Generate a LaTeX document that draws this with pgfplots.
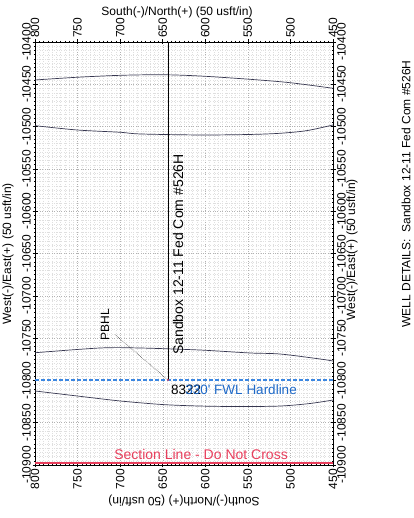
\documentclass[border=0pt]{standalone}
\usepackage{fontspec}
\setmainfont{Liberation Sans}
\usepackage{pgfplots}
\pgfplotsset{compat=1.18}

\definecolor{curvec}{RGB}{55,55,80}
\definecolor{redline}{RGB}{232,62,92}
\definecolor{bluetext}{RGB}{30,105,200}
\definecolor{bluedash}{RGB}{60,135,225}

\begin{document}
\begin{tikzpicture}
\pgfplotsset{
  common/.style={
    scale only axis, width=298pt, height=423pt,
    xmin=450, xmax=800, ymin=-10900, ymax=-10400, x dir=reverse,
    xtick={450,500,...,800}, ytick={-10900,-10850,...,-10400},
    minor x tick num=9, minor y tick num=9,
    scaled x ticks=false, scaled y ticks=false,
    /pgf/number format/assume math mode=true,
    /pgf/number format/set thousands separator={},
    ticklabel style={font=\fontsize{12}{12}\selectfont, rotate=90, inner sep=1.5pt},
    major tick length=5pt, minor tick length=2.5pt,
    tick align=center,
    clip=false,
  }
}
\begin{axis}[common,
  set layers=standard,
  axis line style={black, line width=0.8pt},
  tick style={black, line width=0.5pt},
  grid=both,
  major grid style={gray!60, dotted, line width=0.4pt},
  minor grid style={gray!25, dotted, line width=0.3pt},
  xticklabel style={anchor=east},
  yticklabel style={anchor=south},
]
% arcs
\addplot[curvec, line width=0.7pt, smooth] coordinates {
 (800,-10444.9) (750.7,-10441.7) (700.2,-10439.4) (650.8,-10438.7) (606.2,-10440.2) (547.5,-10444.1) (500.5,-10448.1) (450,-10454.7)};
\addplot[curvec, line width=0.7pt, smooth] coordinates {
 (800,-10498.9) (750.7,-10504.0) (700.2,-10506.7) (676.7,-10508.7) (606.2,-10509.9) (547.5,-10509.3) (512.2,-10507.9) (481.0,-10504.8) (450,-10498.1)};
\addplot[curvec, line width=0.7pt, smooth] coordinates {
 (800,-10767.3) (723.7,-10761.7) (676.7,-10761.7) (606.2,-10764.1) (547.5,-10767.6) (512.2,-10768.8) (465.2,-10774.7) (450,-10777.1)};
\addplot[curvec, line width=0.7pt, smooth] coordinates {
 (800,-10812.5) (750.7,-10818.4) (700.2,-10824.3) (650.8,-10828.5) (606.2,-10830.3) (559.2,-10830.9) (512.2,-10830.3) (477.0,-10827.3) (450,-10823.2)};
% section line
\addplot[redline, line width=1.6pt] coordinates {(800,-10897.5) (450,-10897.5)};
% hardline (covers the grid line beneath)
\addplot[white, line width=1.6pt] coordinates {(800,-10799.5) (450,-10799.5)};
\addplot[bluedash, dash pattern=on 3.5pt off 2.5pt, line width=1.2pt] coordinates {(800,-10799.5) (450,-10799.5)};
% well
\addplot[black, line width=0.8pt] coordinates {(643.8,-10400) (643.8,-10799.5)};
% leader
\addplot[black, densely dotted, line width=0.45pt] coordinates {(706,-10746) (643.8,-10799.5)};
\addplot[only marks, mark=*, mark size=0.7pt, redline] coordinates {(643.8,-10799.5)};

\node[rotate=90, anchor=west, inner sep=0pt, font=\fontsize{14}{14}\selectfont] at (axis cs:632,-10770) {Sandbox 12-11 Fed Com \#526H};
\node[rotate=90, inner sep=0pt, font=\fontsize{12}{12}\selectfont] at (axis cs:717.8,-10734.5) {PBHL};
\node[anchor=west, inner sep=0pt, font=\fontsize{13.5}{13.5}\selectfont] at (axis cs:640.3,-10811) {8322};
\node[anchor=east, inner sep=0pt, text=bluetext, font=\fontsize{13.5}{13.5}\selectfont] at (axis cs:492.3,-10811) {330\textquotesingle{} FWL Hardline};
\node[inner sep=0pt, text=redline, font=\fontsize{14}{14}\selectfont] at (axis cs:605,-10887) {Section Line - Do Not Cross};
\end{axis}
\begin{axis}[common,
  axis line style={draw=none},
  tick style={draw=none},
  xticklabel pos=right, yticklabel pos=right,
  xticklabel style={anchor=west},
  yticklabel style={anchor=north},
]
\addplot[draw=none] coordinates {(800,-10900)};
\end{axis}

\node[font=\fontsize{12}{12}\selectfont] at (142pt,452.5pt) {South(-)/North(+) (50 usft/in)};
\node[rotate=180, font=\fontsize{12}{12}\selectfont] at (149pt,-36pt) {South(-)/North(+) (50 usft/in)};
\node[rotate=90, font=\fontsize{12}{12}\selectfont] at (-27pt,211pt) {West(-)/East(+) (50 usft/in)};
\node[rotate=90, font=\fontsize{12}{12}\selectfont] at (317pt,215pt) {West(-)/East(+) (50 usft/in)};
\node[rotate=90, font=\fontsize{12}{12}\selectfont] at (371pt,271pt) {WELL DETAILS:\ \ Sandbox 12-11 Fed Com \#526H};

\pgfresetboundingbox
\path[use as bounding box] (-35pt,-53pt) rectangle (378pt,465pt);
\end{tikzpicture}
\end{document}
